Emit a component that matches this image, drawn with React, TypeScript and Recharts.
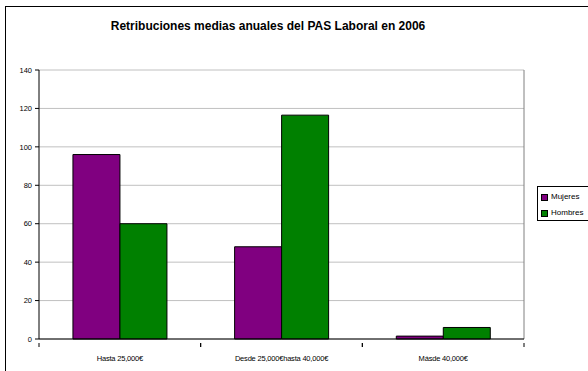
import React from 'react';
import { BarChart, Bar, XAxis, YAxis, CartesianGrid } from 'recharts';

const categories = ['Hasta 25,000€', 'Desde 25,000€hasta 40,000€', 'Másde 40,000€'];
const mujeres = [96, 48, 1.5];
const hombres = [60, 116.5, 6];
const yTicks = [0, 20, 40, 60, 80, 100, 120, 140];
const seriesNames = ['Mujeres', 'Hombres'];
const seriesColors = ['#800080', '#008000'];
const title = 'Retribuciones medias anuales del PAS Laboral en 2006';

const data = categories.map((c, i) => ({ name: c, Mujeres: mujeres[i], Hombres: hombres[i] }));

const FONT = '"Liberation Sans", Arial, sans-serif';

const XTick = (props: any) => {
  const { x, y, payload } = props;
  const off = payload && payload.offset != null ? payload.offset : 80.8;
  return (
    <g>
      <line x1={x - off} x2={x - off} y1={y - 4} y2={y} stroke="#000" />
      <line x1={x + off} x2={x + off} y1={y - 4} y2={y} stroke="#000" />
      <text x={x} y={y + 14} textAnchor="middle" fontSize={7.5} fontFamily={FONT} fill="#000" letterSpacing={-0.2}>
        {payload.value}
      </text>
    </g>
  );
};

export default function App() {
  return (
    <div style={{ position: 'absolute', left: 0, top: 0, width: 588, height: 371, overflow: 'hidden', background: '#fff' }}>
      <div style={{ position: 'absolute', left: 5, top: 6, width: 700, height: 500, border: '1px solid #000', boxSizing: 'border-box' }} />
      <div style={{ position: 'absolute', left: 0, width: 536, top: 19, textAlign: 'center', fontFamily: FONT, fontWeight: 'bold', fontSize: 12, color: '#000', lineHeight: '14px' }}>
        {title}
      </div>
      <div style={{ position: 'absolute', left: 0, top: 0 }}>
        <BarChart width={588} height={371} data={data} margin={{ top: 70, right: 64, bottom: 12, left: 0 }} barCategoryGap="21%" barGap={0}>
          <CartesianGrid vertical={false} stroke="#c0c0c0" />
          <CartesianGrid
            horizontal={false}
            stroke="#808080"
            verticalCoordinatesGenerator={(p: any) => [p.offset.left + p.offset.width]}
          />
          <XAxis dataKey="name" height={20} axisLine={{ stroke: '#000' }} tickLine={false} tick={<XTick />} interval={0} />
          <YAxis width={39} domain={[0, 140]} ticks={yTicks} interval={0} axisLine={{ stroke: '#000' }} tickLine={{ stroke: '#000' }} tickSize={4} tickMargin={3} tick={{ fontSize: 7.5, fontFamily: FONT, fill: '#000' }} />
          <Bar dataKey="Mujeres" fill={seriesColors[0]} stroke="#000" strokeWidth={1} isAnimationActive={false} />
          <Bar dataKey="Hombres" fill={seriesColors[1]} stroke="#000" strokeWidth={1} isAnimationActive={false} />
        </BarChart>
      </div>
      <div style={{ position: 'absolute', left: 537, top: 186, width: 80, height: 35, border: '1px solid #000', boxSizing: 'border-box', background: '#fff', fontFamily: FONT, fontSize: 8, color: '#000' }}>
        {seriesNames.map((n, i) => (
          <div key={n} style={{ position: 'absolute', left: 3, top: 5 + i * 16, display: 'flex', alignItems: 'center', lineHeight: '10px' }}>
            <span style={{ display: 'inline-block', width: 5, height: 5, background: seriesColors[i], border: '1px solid #000', marginRight: 3 }} />
            <span>{n}</span>
          </div>
        ))}
      </div>
    </div>
  );
}
